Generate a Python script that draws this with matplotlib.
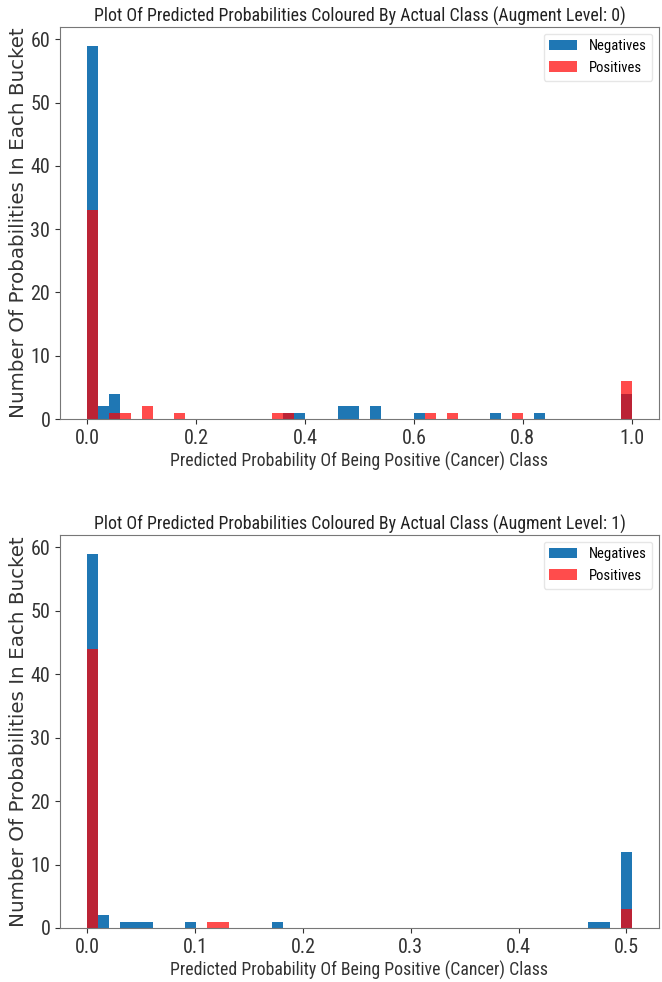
import numpy as np
import matplotlib
matplotlib.use("Agg")
import matplotlib.pyplot as plt
from matplotlib import font_manager

# ---------------- data ----------------
n_bins = 50
range_level0 = (0.0, 1.0)
range_level1 = (0.0, 0.505)

# counts per bucket (bucket index -> count)
neg_level0 = {0: 59, 1: 2, 2: 4, 18: 1, 19: 1, 23: 2, 24: 2, 26: 2, 30: 1, 37: 1, 41: 1, 49: 4}
pos_level0 = {0: 33, 2: 1, 3: 1, 5: 2, 8: 1, 17: 1, 18: 1, 31: 1, 33: 1, 39: 1, 49: 6}
neg_level1 = {0: 59, 1: 2, 3: 1, 4: 1, 5: 1, 9: 1, 17: 1, 46: 1, 47: 1, 49: 12}
pos_level1 = {0: 44, 11: 1, 12: 1, 49: 3}

xticks_level0 = [0.0, 0.2, 0.4, 0.6, 0.8, 1.0]
xticks_level1 = [0.0, 0.1, 0.2, 0.3, 0.4, 0.5]
yticks = [0, 10, 20, 30, 40, 50, 60]

title_fmt = "Plot Of Predicted Probabilities Coloured By Actual Class (Augment Level: {})"
xlabel = "Predicted Probability Of Being Positive (Cancer) Class"
ylabel = "Number Of Probabilities In Each Bucket"
levels = [0, 1]

# ---------------- fonts ----------------
names = {f.name for f in font_manager.fontManager.ttflist}
narrow = 'DejaVu Sans'
for cand in ['Roboto Condensed', 'Archivo Narrow', 'Liberation Sans Narrow',
             'Asap Condensed', 'Barlow Semi Condensed']:
    if cand in names:
        narrow = cand
        break
plt.rcParams['font.family'] = [narrow, 'DejaVu Sans']


def to_arrays(counts, rng):
    edges = np.linspace(rng[0], rng[1], n_bins + 1)
    centers = (edges[:-1] + edges[1:]) / 2
    w = np.zeros(n_bins)
    for k, v in counts.items():
        w[k] = v
    return edges, centers, w


fig = plt.figure(figsize=(6.62, 9.82), dpi=100)
ax0 = fig.add_axes([0.0906, 0.5733, 0.9049, 0.3992])
ax1 = fig.add_axes([0.0906, 0.0550, 0.9049, 0.4002])

datasets = [
    (ax0, neg_level0, pos_level0, range_level0, xticks_level0, levels[0]),
    (ax1, neg_level1, pos_level1, range_level1, xticks_level1, levels[1]),
]

titles, xlabels, ylabels = [], [], []
for ax, neg, pos, rng, xt, lvl in datasets:
    edges, centers, wn = to_arrays(neg, rng)
    _, _, wp = to_arrays(pos, rng)
    ax.hist(centers, bins=edges, weights=wn, color='#1f77b4', label='Negatives')
    ax.hist(centers, bins=edges, weights=wp, color='red', alpha=0.7, label='Positives')
    ax.set_xticks(xt)
    ax.set_xticklabels([f"{t:.1f}" for t in xt])
    ax.set_yticks(yticks)
    ax.tick_params(labelsize=14.5, colors='#333333')
    t = ax.set_title(title_fmt.format(lvl), fontsize=14, color='#222222', pad=4)
    xl = ax.set_xlabel(xlabel, fontsize=14, color='#333333', labelpad=3)
    yl = ax.set_ylabel(ylabel, fontsize=13, color='#333333', family='DejaVu Sans', labelpad=2)
    for s in ax.spines.values():
        s.set_color('#777777')
    leg = ax.legend(loc='upper right', fontsize=10.5, frameon=True,
                    handlelength=1.9, borderaxespad=0.45)
    leg.get_frame().set_edgecolor('#e0e0e0')
    titles.append(t)
    xlabels.append(xl)
    ylabels.append(yl)

# fit text sizes to the reference's measured extents (pixels)
fig.canvas.draw()
r = fig.canvas.get_renderer()
for t in titles:
    w = t.get_window_extent(r).width
    t.set_fontsize(t.get_fontsize() * 536.0 / w)
for xl in xlabels:
    w = xl.get_window_extent(r).width
    xl.set_fontsize(xl.get_fontsize() * 380.0 / w)
for yl in ylabels:
    h = yl.get_window_extent(r).height
    yl.set_fontsize(yl.get_fontsize() * 390.0 / h)

fig.savefig("out.png", dpi=100)
